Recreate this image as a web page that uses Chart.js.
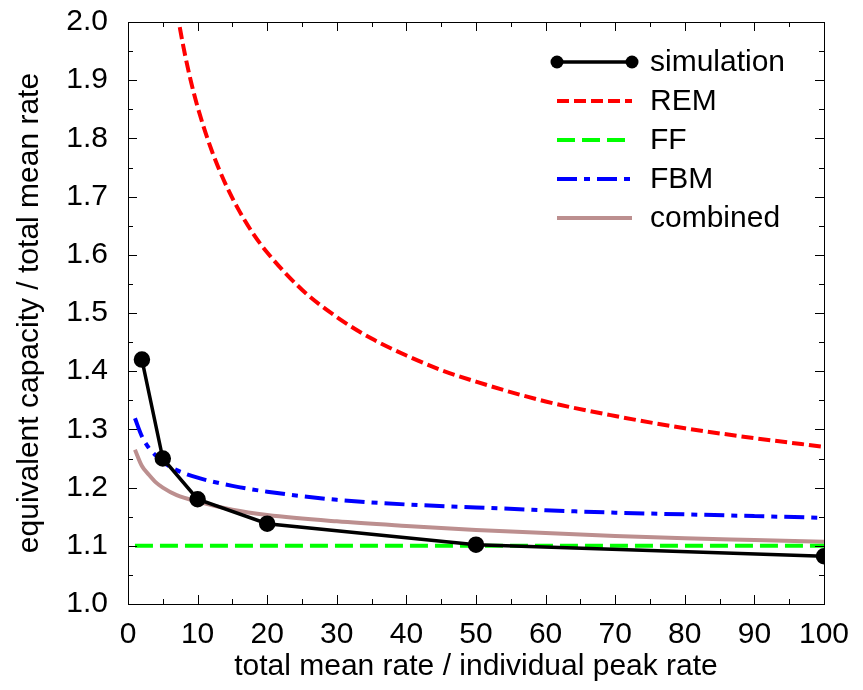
<!DOCTYPE html>
<html>
<head>
<meta charset="utf-8">
<script src="https://cdn.jsdelivr.net/npm/chart.js@4.4.1/dist/chart.umd.min.js"></script>
<style>
  html, body { margin: 0; padding: 0; background: #fff; }
  #wrap { width: 863px; height: 690px; }
</style>
</head>
<body>
<div id="wrap"><canvas id="chart"></canvas></div>
<script>
// values
const simX = [2, 5, 10, 20, 50, 100];
const simY = [1.42, 1.25, 1.18, 1.138, 1.102, 1.082];

const remX = [7, 8, 9, 10, 12, 14, 16, 18, 20, 25, 30, 35, 40, 45, 50, 60, 70, 80, 90, 100];
const remY = [2.02, 1.955, 1.90, 1.854, 1.78, 1.722, 1.675, 1.636, 1.604, 1.54, 1.493, 1.456, 1.427, 1.402, 1.382, 1.348, 1.323, 1.302, 1.285, 1.27];

const ffX = [1, 100];
const ffY = [1.1, 1.1];

const fbmX = [1, 2, 3, 4, 5, 7, 10, 15, 20, 30, 40, 50, 60, 70, 80, 90, 100];
const fbmY = [1.319, 1.288, 1.268, 1.255, 1.244, 1.230, 1.217, 1.203, 1.193, 1.179, 1.171, 1.166, 1.161, 1.157, 1.154, 1.151, 1.148];

const combX = [1, 2, 3, 4, 5, 7, 10, 15, 20, 30, 40, 50, 60, 70, 80, 90, 100];
const combY = [1.265, 1.237, 1.222, 1.209, 1.200, 1.187, 1.176, 1.162, 1.153, 1.142, 1.134, 1.127, 1.122, 1.117, 1.113, 1.110, 1.107];

const xTitle = 'total mean rate / individual peak rate';
const yTitle = 'equivalent capacity / total mean rate';

const FONT = 'Liberation Sans, Arial, Helvetica, sans-serif';
const FSIZE = 30;

function pts(xs, ys) {
  return xs.map((x, i) => ({x: x, y: ys[i]}));
}

// frame with inward ticks on all four sides
const framePlugin = {
  id: 'frame',
  afterDatasetsDraw(chart) {
    const ctx = chart.ctx;
    const a = chart.chartArea;
    const x = chart.scales.x, y = chart.scales.y;
    ctx.save();
    ctx.strokeStyle = '#000';
    ctx.lineWidth = 1;
    ctx.strokeRect(Math.round(a.left) + 0.5, Math.round(a.top) + 0.5,
      Math.round(a.right - a.left), Math.round(a.bottom - a.top));
    ctx.beginPath();
    for (let i = 0; i <= 20; i++) {
      const px = Math.round(x.getPixelForValue(i * 5)) + 0.5;
      const len = i % 2 === 0 ? 9 : 5;
      ctx.moveTo(px, a.bottom); ctx.lineTo(px, a.bottom - len);
      ctx.moveTo(px, a.top); ctx.lineTo(px, a.top + len);
    }
    for (let i = 0; i <= 20; i++) {
      const py = Math.round(y.getPixelForValue(1 + i * 0.05)) + 0.5;
      const len = i % 2 === 0 ? 9 : 5;
      ctx.moveTo(a.left, py); ctx.lineTo(a.left + len, py);
      ctx.moveTo(a.right, py); ctx.lineTo(a.right - len, py);
    }
    ctx.stroke();

    // key, top right inside the plot
    const x0 = a.right - 267, x1 = a.right - 192, tx = a.right - 174;
    let ty = a.top + 40;
    ctx.font = FSIZE + 'px ' + FONT;
    ctx.textBaseline = 'middle';
    ctx.textAlign = 'left';
    chart.data.datasets.forEach(ds => {
      ctx.strokeStyle = ds.borderColor;
      ctx.lineWidth = ds.borderWidth;
      ctx.setLineDash(ds.borderDash || []);
      ctx.beginPath();
      ctx.moveTo(x0, ty); ctx.lineTo(x1, ty);
      ctx.stroke();
      ctx.setLineDash([]);
      if (ds.pointRadius > 0) {
        ctx.fillStyle = ds.borderColor;
        [x0, x1].forEach(px => {
          ctx.beginPath();
          ctx.arc(px, ty, ds.pointRadius, 0, Math.PI * 2);
          ctx.fill();
        });
      }
      ctx.fillStyle = '#000';
      ctx.fillText(ds.label, tx, ty + 1);
      ty += 39;
    });
    ctx.restore();
  }
};

new Chart(document.getElementById('chart'), {
  type: 'line',
  data: {
    datasets: [
      {
        label: 'simulation',
        data: pts(simX, simY),
        borderColor: '#000000',
        backgroundColor: '#000000',
        borderWidth: 3.5,
        pointRadius: 6.5,
        pointBackgroundColor: '#000000',
        tension: 0
      },
      {
        label: 'REM',
        data: pts(remX, remY),
        borderColor: '#ff0000',
        borderWidth: 4,
        borderDash: [12, 5],
        pointRadius: 0,
        cubicInterpolationMode: 'monotone'
      },
      {
        label: 'FF',
        data: pts(ffX, ffY),
        borderColor: '#00ff00',
        borderWidth: 4,
        borderDash: [18, 7],
        pointRadius: 0
      },
      {
        label: 'FBM',
        data: pts(fbmX, fbmY),
        borderColor: '#0000ff',
        borderWidth: 4,
        borderDash: [20, 7, 6, 7],
        pointRadius: 0,
        cubicInterpolationMode: 'monotone'
      },
      {
        label: 'combined',
        data: pts(combX, combY),
        borderColor: '#bc8f8f',
        borderWidth: 4,
        pointRadius: 0,
        cubicInterpolationMode: 'monotone'
      }
    ]
  },
  options: {
    responsive: true,
    maintainAspectRatio: false,
    animation: false,
    layout: { padding: { top: 22, right: 39, bottom: 0, left: 0 } },
    plugins: {
      legend: { display: false },
      tooltip: { enabled: false }
    },
    scales: {
      x: {
        type: 'linear',
        min: 0,
        max: 100,
        grid: { display: false, drawTicks: false },
        border: { display: false },
        ticks: {
          stepSize: 10,
          padding: 13,
          color: '#000',
          maxRotation: 0,
          font: { family: FONT, size: FSIZE }
        },
        title: {
          display: true,
          text: xTitle,
          color: '#000',
          padding: { top: 0, bottom: 5 },
          font: { family: FONT, size: FSIZE }
        },
        afterFit(scale) { scale.height = 86; }
      },
      y: {
        type: 'linear',
        min: 1,
        max: 2,
        grid: { display: false, drawTicks: false },
        border: { display: false },
        ticks: {
          stepSize: 0.1,
          padding: 20,
          color: '#000',
          font: { family: FONT, size: FSIZE },
          callback: v => v.toFixed(1)
        },
        title: {
          display: true,
          text: yTitle,
          color: '#000',
          padding: { top: 12, bottom: 0 },
          font: { family: FONT, size: FSIZE }
        },
        afterFit(scale) {
          scale.width = 128;
          scale.paddingTop = 0;
          scale.paddingBottom = 0;
        }
      }
    }
  },
  plugins: [framePlugin]
});
</script>
</body>
</html>
